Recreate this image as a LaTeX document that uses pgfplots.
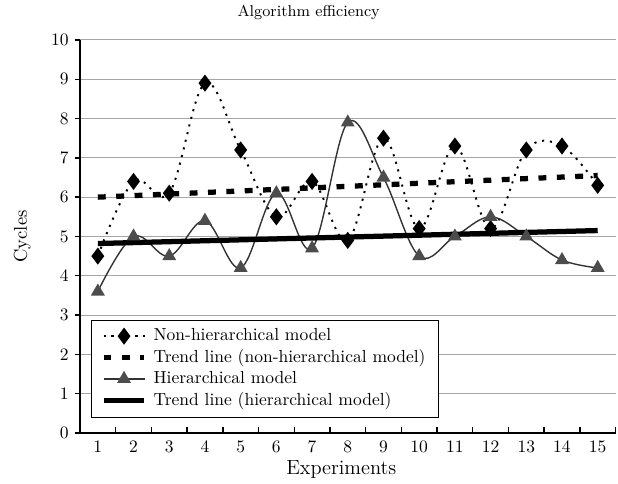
\documentclass[border=0pt]{standalone}
\usepackage{pgfplots}
\pgfplotsset{compat=1.18}
\begin{document}
\begin{tikzpicture}
\useasboundingbox (-45.7pt,-28.6pt) rectangle (307.4pt,247.4pt);
\begin{axis}[
  at={(0,0)}, anchor=south west,
  scale only axis,
  width=306pt, height=224.6pt,
  xmin=0.5, xmax=15.5, ymin=0, ymax=10,
  axis lines*=left,
  axis line style={black, line width=0.8pt},
  xtick={1,...,15},
  major x tick style={draw=none},
  minor xtick={0.5,1.5,...,15.5},
  minor tick length=3.5pt,
  xtick align=inside,
  ytick align=outside,
  ytick={0,...,10},
  major tick length=3pt,
  ymajorgrids,
  grid style={gray!70, line width=0.5pt},
  every tick/.style={black, line width=0.8pt},
  title={Algorithm efficiency},
  every axis title/.style={at={(axis description cs:0.427,1.071)}, anchor=center, font=\small},
  xlabel={Experiments},
  ylabel={Cycles},
  every axis x label/.style={at={(axis description cs:0.488,-0.094)}, anchor=center, font=\fontsize{11.7}{13}\selectfont},
  every axis y label/.style={at={(axis description cs:-0.108,0.5)}, anchor=center, rotate=90, font=\fontsize{10.6}{12}\selectfont},
  tick label style={font=\normalsize},
  xticklabel style={yshift=-1pt},
  legend style={at={(0.0206,0.04)}, anchor=south west, draw=black, font=\normalsize,
    cells={anchor=west}, row sep=-0.5pt, inner xsep=5.5pt, inner ysep=3pt},
  legend image code/.code={\draw[mark repeat=2,mark phase=2] plot coordinates {(0cm,0cm) (0.41cm,0cm) (0.82cm,0cm)};\path (0.88cm,0);},
]
\addplot[black, dash pattern=on 1.2pt off 3.3pt, line width=1.1pt, smooth, tension=0.6,
  mark=diamond*, mark size=4pt, mark options={solid, fill=black}]
  coordinates {(1,4.5) (2,6.4) (3,6.1) (4,8.9) (5,7.2) (6,5.5) (7,6.4) (8,4.9) (9,7.5) (10,5.2) (11,7.3) (12,5.2) (13,7.2) (14,7.3) (15,6.3)};
\addlegendentry{Non-hierarchical model}
\addplot[black, dash pattern=on 4.5pt off 6pt, line width=3pt]
  coordinates {(1,6.0) (15,6.55)};
\addlegendentry{Trend line (non-hierarchical model)}
\addplot[black!80, line width=0.8pt, smooth, tension=0.6,
  mark=triangle*, mark size=3.8pt, mark options={solid, fill=black!70, draw=black!70}]
  coordinates {(1,3.6) (2,5.0) (3,4.5) (4,5.4) (5,4.2) (6,6.1) (7,4.7) (8,7.9) (9,6.5) (10,4.5) (11,5.0) (12,5.5) (13,5.0) (14,4.4) (15,4.2)};
\addlegendentry{Hierarchical model}
\addplot[black, line width=3pt]
  coordinates {(1,4.82) (15,5.15)};
\addlegendentry{Trend line (hierarchical model)}
\end{axis}
\end{tikzpicture}
\end{document}
